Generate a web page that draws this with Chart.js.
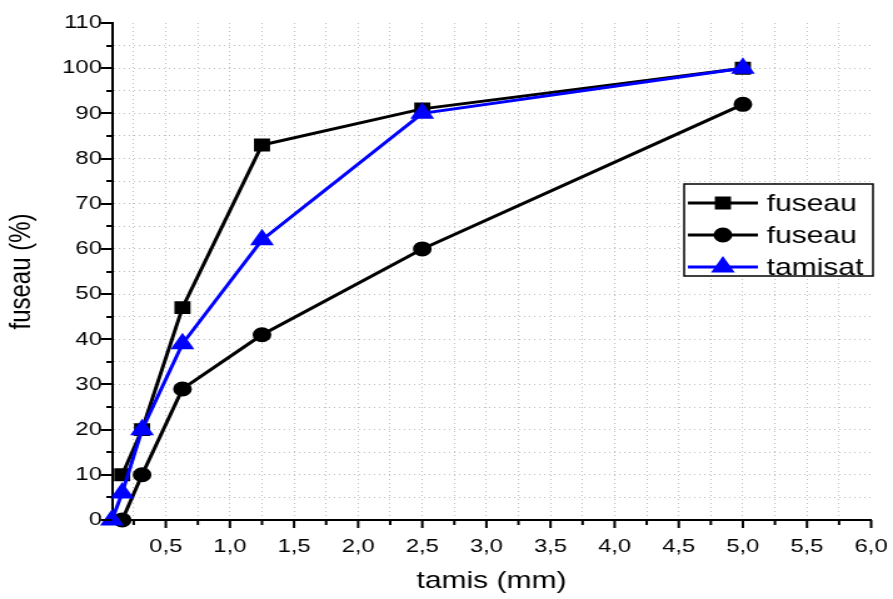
<!DOCTYPE html>
<html lang="fr">
<head>
    <meta charset="UTF-8">
    <title>fuseau</title>
    <style>
        body { margin: 0; background: #fff; }
    </style>
</head>
<body>

<!-- the original figure is stretched horizontally, so the canvas is drawn narrower and widened by css -->
<div style="width: 893px; height: 599px;">
    <canvas id="myChart" width="714" height="599" style="width: 893px; height: 599px;"></canvas>
</div>

<script src="https://cdn.jsdelivr.net/npm/chart.js"></script>

<script>
    // tamis (mm)
    const sieveX = [0.08, 0.16, 0.315, 0.63, 1.25, 2.5, 5];
    // passants (%)
    const fuseauSup = [null, 10, 20, 47, 83, 91, 100];
    const fuseauInf = [null, 0, 10, 29, 41, 60, 92];
    const tamisat = [0, 6, 20, 39, 62, 90, 100];

    const xTickValues = [0.25, 0.5, 0.75, 1, 1.25, 1.5, 1.75, 2, 2.25, 2.5, 2.75, 3, 3.25, 3.5, 3.75, 4, 4.25, 4.5, 4.75, 5, 5.25, 5.5, 5.75, 6];
    const yTickValues = [0, 5, 10, 15, 20, 25, 30, 35, 40, 45, 50, 55, 60, 65, 70, 75, 80, 85, 90, 95, 100, 105, 110];

    const ctx = document.getElementById('myChart');
    const FONT = '"Liberation Sans", Arial, sans-serif'

    function toPoints(ys) {
        let pts = []
        ys.forEach((y, i) => {
            if (y !== null) pts.push({x: sieveX[i], y: y})
        })
        return pts
    }

    const isMajorX = v => Math.abs(v * 2 - Math.round(v * 2)) < 1e-6
    const isMajorY = v => v % 10 === 0

    // small and big ticks like in Origin
    const tickMarks = {
        id: 'tickMarks',
        afterDraw(chart) {
            const c = chart.ctx
            const xs = chart.scales.x
            const ys = chart.scales.y
            const area = chart.chartArea
            c.save()
            c.strokeStyle = '#000'
            c.lineWidth = 2
            c.beginPath()
            xTickValues.forEach(v => {
                const px = xs.getPixelForValue(v)
                c.moveTo(px, area.bottom)
                c.lineTo(px, area.bottom + (isMajorX(v) ? 8 : 5))
            })
            yTickValues.forEach(v => {
                const py = Math.round(ys.getPixelForValue(v))
                c.moveTo(area.left, py)
                c.lineTo(area.left - (isMajorY(v) ? 9 : 4.5), py)
            })
            c.stroke()
            c.restore()
        }
    }

    // legend box inside the plot
    const boxLegend = {
        id: 'boxLegend',
        afterDraw(chart) {
            const c = chart.ctx
            const left = 547, top = 184, w = 151, h = 92
            c.save()
            c.fillStyle = '#fff'
            c.fillRect(left, top, w, h)
            c.strokeStyle = '#000'
            c.lineWidth = 1.5
            c.strokeRect(left, top, w, h)
            c.font = '24px ' + FONT
            c.textBaseline = 'middle'
            chart.data.datasets.forEach((ds, i) => {
                const y = top + 19 + i * 32
                c.strokeStyle = ds.borderColor
                c.lineWidth = ds.borderWidth
                c.beginPath()
                c.moveTo(left + 3, y)
                c.lineTo(left + 59, y)
                c.stroke()
                c.fillStyle = ds.backgroundColor
                Chart.helpers.drawPoint(c, {
                    pointStyle: ds.pointStyle,
                    radius: ds.pointRadius,
                    borderWidth: 1
                }, left + 31, y)
                c.fillStyle = '#000'
                c.fillText(ds.label, left + 66, y + 1)
            })
            c.restore()
        }
    }

    new Chart(ctx, {
        type: 'scatter',
        data: {
            datasets: [{
                label: 'fuseau',
                data: toPoints(fuseauSup),
                showLine: true,
                borderColor: '#000',
                backgroundColor: '#000',
                borderWidth: 3,
                pointStyle: 'rect',
                pointRadius: 7,
                pointHoverRadius: 7,
                clip: false,
                order: 2
            }, {
                label: 'fuseau',
                data: toPoints(fuseauInf),
                showLine: true,
                borderColor: '#000',
                backgroundColor: '#000',
                borderWidth: 3,
                pointStyle: 'circle',
                pointRadius: 6,
                pointHoverRadius: 6,
                clip: false,
                order: 1
            }, {
                label: 'tamisat',
                data: toPoints(tamisat),
                showLine: true,
                borderColor: '#0000ff',
                backgroundColor: '#0000ff',
                borderWidth: 3,
                pointStyle: 'triangle',
                pointRadius: 8,
                pointHoverRadius: 8,
                clip: false,
                order: 0
            }]
        },
        options: {
            responsive: false,
            animation: false,
            events: [],
            layout: {
                padding: {left: 0, top: 23, right: 17.5, bottom: 0}
            },
            plugins: {
                legend: {display: false},
                tooltip: {enabled: false}
            },
            scales: {
                x: {
                    type: 'linear',
                    min: 0.08,
                    max: 6,
                    afterBuildTicks: s => { s.ticks = xTickValues.map(v => ({value: v})) },
                    afterFit: s => {
                        s.height = 79
                        s.paddingLeft = 0
                        s.paddingRight = 0
                    },
                    ticks: {
                        autoSkip: false,
                        maxRotation: 0,
                        padding: 15,
                        color: '#000',
                        font: {family: FONT, size: 19},
                        callback: v => isMajorX(v) ? v.toFixed(1).replace('.', ',') : ''
                    },
                    grid: {
                        drawTicks: false,
                        lineWidth: 1,
                        color: c => (c.tick && c.tick.value === 6) ? 'rgba(0,0,0,0)' : '#bdbdbd'
                    },
                    border: {display: true, color: '#000', width: 2, dash: [1, 3]},
                    title: {
                        display: true,
                        text: 'tamis (mm)',
                        color: '#000',
                        font: {family: FONT, size: 24},
                        padding: {top: 0, bottom: 3}
                    }
                },
                y: {
                    type: 'linear',
                    min: 0,
                    max: 110,
                    afterBuildTicks: s => { s.ticks = yTickValues.map(v => ({value: v})) },
                    afterFit: s => { s.width = 89.5 },
                    ticks: {
                        autoSkip: false,
                        padding: 8,
                        color: '#000',
                        font: {family: FONT, size: 19},
                        callback: v => isMajorY(v) ? String(v) : ''
                    },
                    grid: {
                        drawTicks: false,
                        lineWidth: 1,
                        color: c => (c.tick && (c.tick.value === 110 || c.tick.value === 0)) ? 'rgba(0,0,0,0)' : '#bdbdbd'
                    },
                    border: {display: true, color: '#000', width: 2, dash: [1, 3]},
                    title: {
                        display: true,
                        text: 'fuseau (%)',
                        color: '#000',
                        font: {family: FONT, size: 24},
                        padding: {top: 3, bottom: 0}
                    }
                }
            }
        },
        plugins: [tickMarks, boxLegend]
    });
</script>
</body>
</html>
